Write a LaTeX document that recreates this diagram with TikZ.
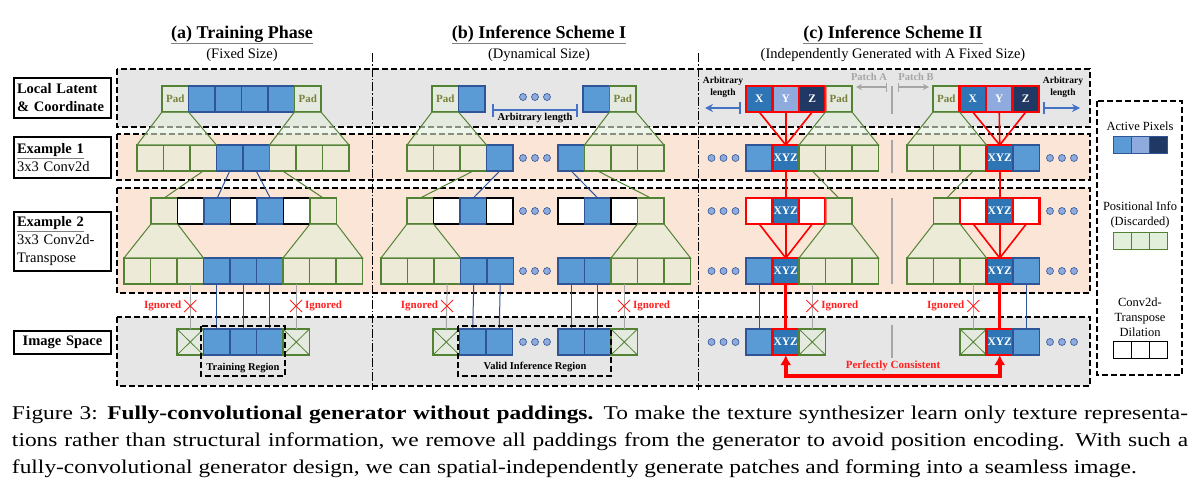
\documentclass[tikz,border=0pt]{standalone}
\usepackage{fontspec}
\setmainfont{Liberation Serif}
\newfontfamily\capfont[FakeStretch=1.2]{Liberation Serif}
\usepackage{tikz}
\usetikzlibrary{arrows.meta}
\usetikzlibrary{positioning}
\usetikzlibrary{shapes.misc}

\definecolor{bandgray}{HTML}{E7E6E6}
\definecolor{bandpeach}{HTML}{FBE5D6}
\definecolor{cellblue}{HTML}{5B9BD5}
\definecolor{cellborder}{HTML}{2F5597}
\definecolor{xyzblue}{HTML}{2E75B6}
\definecolor{ylight}{HTML}{8FAADC}
\definecolor{zdark}{HTML}{203864}
\definecolor{lgreen}{HTML}{E2EFDA}
\definecolor{greenline}{HTML}{548235}
\definecolor{padtext}{RGB}{122,128,60}
\definecolor{dotblue}{HTML}{8FAADC}
\definecolor{arbblue}{HTML}{4472C4}
\definecolor{ignred}{HTML}{FF2020}

\newcommand{\gul}[1]{\textcolor{gray}{\underline{\textcolor{black}{#1}}}}
\newcommand{\rowfont}{\fontsize{14.5}{18}\selectfont}

\tikzset{
% Define standard arrow tip
>={Latex[scale=1.25]},
cell/.style={draw, line width=1.2pt, minimum width=26.5pt, minimum height=26pt},
bcell/.style={cell, draw=cellborder, fill=cellblue},
gcell/.style={cell, draw=greenline, fill=lgreen, fill opacity=0.55, text opacity=1},
padcell/.style={gcell, text=padtext, font=\bfseries\fontsize{11}{12}\selectfont},
wcell/.style={cell, draw=black, fill=white},
rwcell/.style={cell, draw=red, line width=2.5pt, fill=white},
kcell/.style={cell, draw=red, line width=2.5pt, fill=xyzblue, text=white, font=\bfseries\fontsize{11.5}{12}\selectfont},
xcell/.style={gcell, path picture={
  \draw[greenline, line width=0.8pt] (path picture bounding box.north west) -- (path picture bounding box.south east)
    (path picture bounding box.north east) -- (path picture bounding box.south west);}},
dotrow/.style={minimum width=36pt, minimum height=10pt, path picture={
  \filldraw[draw=cellborder, fill=dotblue, line width=0.6pt] ([xshift=-12pt]path picture bounding box.center) circle (3.5pt);
  \filldraw[draw=cellborder, fill=dotblue, line width=0.6pt] (path picture bounding box.center) circle (3.5pt);
  \filldraw[draw=cellborder, fill=dotblue, line width=0.6pt] ([xshift=12pt]path picture bounding box.center) circle (3.5pt);}},
trap/.style={draw=greenline, line width=1pt, fill=lgreen, fill opacity=0.6},
gline/.style={greenline, line width=1pt},
bline/.style={cellborder, line width=1pt},
grayline/.style={gray!70, line width=1pt},
rline/.style={red, line width=1.6pt},
rthick/.style={red, line width=3pt},
band/.style={line width=1.2pt, dash pattern=on 6pt off 3pt},
sepline/.style={line width=1pt, dash pattern=on 9pt off 2pt on 1.5pt off 2pt},
midline/.style={gray!70, line width=1.2pt},
rowlabel/.style={draw, line width=1.2pt, text width=91pt, inner sep=3pt, align=left, font=\rowfont},
coltitle/.style={font=\bfseries\fontsize{18}{20}\selectfont},
subtitle/.style={font=\fontsize{14.5}{16}\selectfont},
smalltext/.style={font=\bfseries\fontsize{10.5}{11.5}\selectfont},
ign/.style={text=ignred, font=\bfseries\fontsize{11}{12}\selectfont},
xmark/.style={cross out, draw=ignred, line width=1pt, minimum size=12pt},
arbline/.style={arbblue, line width=1.8pt},
patchline/.style={gray!70, line width=1.4pt},
patchtext/.style={text=gray!70, font=\bfseries\fontsize{10.5}{12}\selectfont},
legtext/.style={align=center, font=\fontsize{12.5}{15}\selectfont},
lcell/.style={draw, line width=1pt, minimum width=18pt, minimum height=17pt},
consist/.style={red, line width=3.5pt},
}

\begin{document}
\begin{tikzpicture}[x=1pt, y=-1pt, inner sep=0, outer sep=0]
  \useasboundingbox (0,0) rectangle (1204,490);

  % bands
  \filldraw[band, fill=bandgray] (117,69) rectangle (1090,127);
  \filldraw[band, fill=bandpeach] (117,134) rectangle (1090,180);
  \filldraw[band, fill=bandpeach] (117,188) rectangle (1090,293);
  \filldraw[band, fill=bandgray] (117,317) rectangle (1090,386);
  \draw[sepline] (372,53) -- (372,390);
  \draw[sepline] (698,53) -- (698,390);

  % row labels
  \node[rowlabel, minimum height=40pt] (lab1) at (62.5,98) {\textbf{Local Latent}\\\textbf{\& Coordinate}};
  \node[rowlabel, minimum height=41pt] (lab2) at (62.5,157.5) {\textbf{\gul{Example 1}}\\3x3 Conv2d};
  \node[rowlabel, minimum height=59pt] (lab3) at (62.5,241.5) {\textbf{\gul{Example 2}}\\3x3 Conv2d-\\Transpose};
  \node[rowlabel, minimum height=23pt, align=center] (lab4) at (62.5,342.5) {\textbf{Image Space}};

  % (a) training phase
  \node[coltitle] (ta) at (242,35) {\gul{(a) Training Phase}};
  \node[subtitle] (sa) at (242,55) {(Fixed Size)};

  \node[padcell, anchor=west] (a1c1) at (162,99) {Pad};
  \node[bcell, right=0pt of a1c1] (a1c2) {};
  \node[bcell, right=0pt of a1c2] (a1c3) {};
  \node[bcell, right=0pt of a1c3] (a1c4) {};
  \node[bcell, right=0pt of a1c4] (a1c5) {};
  \node[padcell, right=0pt of a1c5] (a1c6) {Pad};

  \node[gcell, anchor=west] (a2c1) at (137,158) {};
  \node[gcell, right=0pt of a2c1] (a2c2) {};
  \node[gcell, right=0pt of a2c2] (a2c3) {};
  \node[bcell, right=0pt of a2c3] (a2c4) {};
  \node[bcell, right=0pt of a2c4] (a2c5) {};
  \node[gcell, right=0pt of a2c5] (a2c6) {};
  \node[gcell, right=0pt of a2c6] (a2c7) {};
  \node[gcell, right=0pt of a2c7] (a2c8) {};

  \node[gcell, anchor=west] (a3c1) at (151,211) {};
  \node[wcell, right=0pt of a3c1] (a3c2) {};
  \node[bcell, right=0pt of a3c2] (a3c3) {};
  \node[wcell, right=0pt of a3c3] (a3c4) {};
  \node[bcell, right=0pt of a3c4] (a3c5) {};
  \node[wcell, right=0pt of a3c5] (a3c6) {};
  \node[gcell, right=0pt of a3c6] (a3c7) {};

  \node[gcell, anchor=west] (a4c1) at (124,271) {};
  \node[gcell, right=0pt of a4c1] (a4c2) {};
  \node[gcell, right=0pt of a4c2] (a4c3) {};
  \node[bcell, right=0pt of a4c3] (a4c4) {};
  \node[bcell, right=0pt of a4c4] (a4c5) {};
  \node[bcell, right=0pt of a4c5] (a4c6) {};
  \node[gcell, right=0pt of a4c6] (a4c7) {};
  \node[gcell, right=0pt of a4c7] (a4c8) {};
  \node[gcell, right=0pt of a4c8] (a4c9) {};

  \node[xcell, anchor=west] (a5c1) at (177,342) {};
  \node[bcell, right=0pt of a5c1] (a5c2) {};
  \node[bcell, right=0pt of a5c2] (a5c3) {};
  \node[bcell, right=0pt of a5c3] (a5c4) {};
  \node[xcell, right=0pt of a5c4] (a5c5) {};

  \filldraw[trap] (a1c1.south west) -- (a1c1.south east) -- (a2c3.north east) -- (a2c1.north west) -- cycle;
  \filldraw[trap] (a1c6.south west) -- (a1c6.south east) -- (a2c8.north east) -- (a2c6.north west) -- cycle;
  \filldraw[trap] (a3c1.south west) -- (a3c1.south east) -- (a4c3.north east) -- (a4c1.north west) -- cycle;
  \filldraw[trap] (a3c7.south west) -- (a3c7.south east) -- (a4c9.north east) -- (a4c7.north west) -- cycle;

  \draw[gline] (a2c3.south) -- (a3c1.north);
  \draw[bline] (a2c4.south) -- (a3c3.north);
  \draw[bline] (a2c5.south) -- (a3c5.north);
  \draw[gline] (a2c6.south) -- (a3c7.north);
  \draw[grayline] (a4c3.south) -- (a5c1.north);
  \draw[bline] (a4c4.south) -- (a5c2.north);
  \draw[bline] (a4c5.south) -- (a5c3.north);
  \draw[bline] (a4c6.south) -- (a5c4.north);
  \draw[grayline] (a4c7.south) -- (a5c5.north);

  \node[xmark] (ax1) at (190.25,306) {};
  \node[ign, left=3pt of ax1] (ai1) {Ignored};
  \node[xmark] (ax2) at (296,306) {};
  \node[ign, right=3pt of ax2] (ai2) {Ignored};

  \draw[band] (201,326) rectangle (285,376);
  \node[smalltext] (atr) at (243,368) {Training Region};

  % (b) inference scheme I
  \node[coltitle] (tb) at (539,35) {\gul{(b) Inference Scheme I}};
  \node[subtitle] (sb) at (539,55) {(Dynamical Size)};

  % left
  \node[padcell, anchor=west] (b1c1) at (432,99) {Pad};
  \node[bcell, right=0pt of b1c1] (b1c2) {};
  \node[dotrow] (b1d) at (535,97) {};
  % right
  \node[bcell, anchor=west] (b1c3) at (583,99) {};
  \node[padcell, right=0pt of b1c3] (b1c4) {Pad};

  \coordinate (b1al) at (492,110);
  \coordinate (b1ar) at (578,110);
  \draw[arbline, {Bar[width=13pt]}-{Bar[width=13pt]}] (b1al) -- (b1ar);
  \node[smalltext] (b1at) at (535,118) {Arbitrary length};

  \node[gcell, anchor=west] (b2c1) at (407,158) {};
  \node[gcell, right=0pt of b2c1] (b2c2) {};
  \node[gcell, right=0pt of b2c2] (b2c3) {};
  \node[bcell, right=0pt of b2c3] (b2c4) {};
  \node[dotrow] (b2d) at (535,158) {};
  \node[bcell, anchor=west] (b2c5) at (558,158) {};
  \node[gcell, right=0pt of b2c5] (b2c6) {};
  \node[gcell, right=0pt of b2c6] (b2c7) {};
  \node[gcell, right=0pt of b2c7] (b2c8) {};

  \node[gcell, anchor=west] (b3c1) at (407,211) {};
  \node[wcell, right=0pt of b3c1] (b3c2) {};
  \node[bcell, right=0pt of b3c2] (b3c3) {};
  \node[wcell, right=0pt of b3c3] (b3c4) {};
  \node[dotrow] (b3d) at (535,211) {};
  \node[wcell, anchor=west] (b3c5) at (558,211) {};
  \node[bcell, right=0pt of b3c5] (b3c6) {};
  \node[wcell, right=0pt of b3c6] (b3c7) {};
  \node[gcell, right=0pt of b3c7] (b3c8) {};

  \node[gcell, anchor=west] (b4c1) at (381,271) {};
  \node[gcell, right=0pt of b4c1] (b4c2) {};
  \node[gcell, right=0pt of b4c2] (b4c3) {};
  \node[bcell, right=0pt of b4c3] (b4c4) {};
  \node[bcell, right=0pt of b4c4] (b4c5) {};
  \node[dotrow] (b4d) at (535,271) {};
  \node[bcell, anchor=west] (b4c6) at (558,271) {};
  \node[bcell, right=0pt of b4c6] (b4c7) {};
  \node[gcell, right=0pt of b4c7] (b4c8) {};
  \node[gcell, right=0pt of b4c8] (b4c9) {};
  \node[gcell, right=0pt of b4c9] (b4c10) {};

  \node[xcell, anchor=west] (b5c1) at (433,342) {};
  \node[bcell, right=0pt of b5c1] (b5c2) {};
  \node[bcell, right=0pt of b5c2] (b5c3) {};
  \node[dotrow] (b5d) at (535,342) {};
  \node[bcell, anchor=west] (b5c4) at (558,342) {};
  \node[bcell, right=0pt of b5c4] (b5c5) {};
  \node[xcell, right=0pt of b5c5] (b5c6) {};

  \filldraw[trap] (b1c1.south west) -- (b1c1.south east) -- (b2c3.north east) -- (b2c1.north west) -- cycle;
  \filldraw[trap] (b1c4.south west) -- (b1c4.south east) -- (b2c8.north east) -- (b2c6.north west) -- cycle;
  \filldraw[trap] (b3c1.south west) -- (b3c1.south east) -- (b4c3.north east) -- (b4c1.north west) -- cycle;
  \filldraw[trap] (b3c8.south west) -- (b3c8.south east) -- (b4c10.north east) -- (b4c8.north west) -- cycle;

  \draw[gline] (b2c3.south) -- (b3c1.north);
  \draw[bline] (b2c4.south) -- (b3c3.north);
  \draw[bline] (b2c5.south) -- (b3c6.north);
  \draw[gline] (b2c6.south) -- (b3c8.north);
  \draw[grayline] (b4c3.south) -- (b5c1.north);
  \draw[bline] (b4c4.south) -- (b5c2.north);
  \draw[bline] (b4c5.south) -- (b5c3.north);
  \draw[bline] (b4c6.south) -- (b5c4.north);
  \draw[bline] (b4c7.south) -- (b5c5.north);
  \draw[grayline] (b4c8.south) -- (b5c6.north);

  \node[xmark] (bx1) at (447,306) {};
  \node[ign, left=3pt of bx1] (bi1) {Ignored};
  \node[xmark] (bx2) at (624,306) {};
  \node[ign, right=3pt of bx2] (bi2) {Ignored};

  \draw[band] (458,326) rectangle (611,376);
  \node[smalltext] (bvr) at (535,367) {Valid Inference Region};

  % (c) inference scheme II
  \node[coltitle] (tc) at (893,35) {\gul{(c) Inference Scheme II}};
  \node[subtitle] (sc) at (893,55) {(Independently Generated with A Fixed Size)};

  % patch A
  \node[kcell, anchor=west] (c1c1) at (746,99) {X};
  \node[kcell, fill=ylight, right=0pt of c1c1] (c1c2) {Y};
  \node[kcell, fill=zdark, right=0pt of c1c2] (c1c3) {Z};
  \node[padcell, right=0pt of c1c3] (c1c4) {Pad};
  % patch B
  \node[padcell, anchor=west] (c1c5) at (933,99) {Pad};
  \node[kcell, right=0pt of c1c5] (c1c6) {X};
  \node[kcell, fill=ylight, right=0pt of c1c6] (c1c7) {Y};
  \node[kcell, fill=zdark, right=0pt of c1c7] (c1c8) {Z};

  \node[smalltext, align=center, font=\bfseries\fontsize{9.5}{11.5}\selectfont] (c1lt) at (723,87) {Arbitrary\\length};
  \coordinate (c1l1) at (741,108);
  \coordinate (c1l2) at (705,108);
  \draw[arbline, {Bar[width=12pt]}-{Stealth[length=8pt,width=8pt]}] (c1l1) -- (c1l2);
  \node[smalltext, align=center, font=\bfseries\fontsize{9.5}{11.5}\selectfont] (c1rt) at (1063,87) {Arbitrary\\length};
  \coordinate (c1r1) at (1043,108);
  \coordinate (c1r2) at (1080,108);
  \draw[arbline, {Bar[width=12pt]}-{Stealth[length=8pt,width=8pt]}] (c1r1) -- (c1r2);

  \node[patchtext] (cpa) at (869,77) {Patch A};
  \coordinate (cpa1) at (887,87);
  \coordinate (cpa2) at (856,87);
  \draw[patchline, {Bar[width=9pt]}-{Stealth[length=6pt,width=6pt]}] (cpa1) -- (cpa2);
  \node[patchtext] (cpb) at (916,77) {Patch B};
  \coordinate (cpb1) at (898,87);
  \coordinate (cpb2) at (929,87);
  \draw[patchline, {Bar[width=9pt]}-{Stealth[length=6pt,width=6pt]}] (cpb1) -- (cpb2);

  \draw[midline] (892,86) -- (892,114);
  \draw[midline] (892,140) -- (892,173);
  \draw[midline] (892,198) -- (892,284);
  \draw[midline] (892,325) -- (892,358);

  \node[dotrow] (c2dl) at (723.5,158) {};
  \node[bcell, anchor=west] (c2c1) at (746,158) {};
  \node[kcell, right=0pt of c2c1] (c2c2) {XYZ};
  \node[gcell, right=0pt of c2c2] (c2c3) {};
  \node[gcell, right=0pt of c2c3] (c2c4) {};
  \node[gcell, right=0pt of c2c4] (c2c5) {};
  \node[gcell, anchor=west] (c2c6) at (907,158) {};
  \node[gcell, right=0pt of c2c6] (c2c7) {};
  \node[gcell, right=0pt of c2c7] (c2c8) {};
  \node[kcell, right=0pt of c2c8] (c2c9) {XYZ};
  \node[bcell, right=0pt of c2c9] (c2c10) {};
  \node[dotrow] (c2dr) at (1062,158) {};

  \node[dotrow] (c3dl) at (723.5,211) {};
  \node[rwcell, anchor=west] (c3c1) at (746,211) {};
  \node[kcell, right=0pt of c3c1] (c3c2) {XYZ};
  \node[rwcell, right=0pt of c3c2] (c3c3) {};
  \node[gcell, right=0pt of c3c3] (c3c4) {};
  \node[gcell, anchor=west] (c3c5) at (933.5,211) {};
  \node[rwcell, right=0pt of c3c5] (c3c6) {};
  \node[kcell, right=0pt of c3c6] (c3c7) {XYZ};
  \node[rwcell, right=0pt of c3c7] (c3c8) {};
  \node[dotrow] (c3dr) at (1062,211) {};

  \node[dotrow] (c4dl) at (723.5,271) {};
  \node[bcell, anchor=west] (c4c1) at (746,271) {};
  \node[kcell, right=0pt of c4c1] (c4c2) {XYZ};
  \node[gcell, right=0pt of c4c2] (c4c3) {};
  \node[gcell, right=0pt of c4c3] (c4c4) {};
  \node[gcell, right=0pt of c4c4] (c4c5) {};
  \node[gcell, anchor=west] (c4c6) at (907,271) {};
  \node[gcell, right=0pt of c4c6] (c4c7) {};
  \node[gcell, right=0pt of c4c7] (c4c8) {};
  \node[kcell, right=0pt of c4c8] (c4c9) {XYZ};
  \node[bcell, right=0pt of c4c9] (c4c10) {};
  \node[dotrow] (c4dr) at (1062,271) {};

  \node[dotrow] (c5dl) at (723.5,342) {};
  \node[bcell, anchor=west] (c5c1) at (746,342) {};
  \node[kcell, right=0pt of c5c1] (c5c2) {XYZ};
  \node[xcell, right=0pt of c5c2] (c5c3) {};
  \node[xcell, anchor=west] (c5c4) at (960,342) {};
  \node[kcell, right=0pt of c5c4] (c5c5) {XYZ};
  \node[bcell, right=0pt of c5c5] (c5c6) {};
  \node[dotrow] (c5dr) at (1062,342) {};

  \filldraw[trap] (c1c4.south west) -- (c1c4.south east) -- (c2c5.north east) -- (c2c3.north west) -- cycle;
  \filldraw[trap] (c1c5.south west) -- (c1c5.south east) -- (c2c8.north east) -- (c2c6.north west) -- cycle;
  \filldraw[trap] (c3c4.south west) -- (c3c4.south east) -- (c4c5.north east) -- (c4c3.north west) -- cycle;
  \filldraw[trap] (c3c5.south west) -- (c3c5.south east) -- (c4c8.north east) -- (c4c6.north west) -- cycle;

  \draw[rline] (c1c1.south) -- (c2c2.north);
  \draw[rline] (c1c2.south) -- (c2c2.north);
  \draw[rline] (c1c3.south) -- (c2c2.north);
  \draw[rline] (c1c6.south) -- (c2c9.north);
  \draw[rline] (c1c7.south) -- (c2c9.north);
  \draw[rline] (c1c8.south) -- (c2c9.north);
  \draw[rline] (c2c2.south) -- (c3c2.north);
  \draw[rline] (c2c9.south) -- (c3c7.north);
  \draw[gline] (c2c3.south) -- (c3c4.north);
  \draw[gline] (c2c8.south) -- (c3c5.north);
  \draw[rline] (c3c1.south) -- (c4c2.north);
  \draw[rline] (c3c2.south) -- (c4c2.north);
  \draw[rline] (c3c3.south) -- (c4c2.north);
  \draw[rline] (c3c6.south) -- (c4c9.north);
  \draw[rline] (c3c7.south) -- (c4c9.north);
  \draw[rline] (c3c8.south) -- (c4c9.north);
  \draw[bline] (c4c1.south) -- (c5c1.north);
  \draw[rthick] (c4c2.south) -- (c5c2.north);
  \draw[grayline] (c4c3.south) -- (c5c3.north);
  \draw[grayline] (c4c8.south) -- (c5c4.north);
  \draw[rthick] (c4c9.south) -- (c5c5.north);
  \draw[bline] (c4c10.south) -- (c5c6.north);

  \node[xmark] (cx1) at (812.25,306) {};
  \node[ign, right=3pt of cx1] (ci1) {Ignored};
  \node[xmark] (cx2) at (973.25,306) {};
  \node[ign, left=3pt of cx2] (ci2) {Ignored};

  \draw[consist, {Latex[length=10pt,width=11pt]}-{Latex[length=10pt,width=11pt]}] (c5c2.south) -- ([yshift=-21pt]c5c2.south) -- ([yshift=-21pt]c5c5.south) -- (c5c5.south);
  \node[ign] (cpc) at (893,366) {Perfectly Consistent};

  % legend
  \draw[band] (1097,101) rectangle (1182,375);
  \node[legtext] (l1) at (1140,126) {Active Pixels};
  \node[lcell, draw=cellborder, fill=cellblue, anchor=west] (l1c1) at (1113,144.5) {};
  \node[lcell, draw=cellborder, fill=ylight, right=0pt of l1c1] (l1c2) {};
  \node[lcell, draw=cellborder, fill=zdark, right=0pt of l1c2] (l1c3) {};
  \node[legtext] (l2) at (1140,214.5) {Positional Info\\(Discarded)};
  \node[lcell, draw=greenline, fill=lgreen, anchor=west] (l2c1) at (1113,240.5) {};
  \node[lcell, draw=greenline, fill=lgreen, right=0pt of l2c1] (l2c2) {};
  \node[lcell, draw=greenline, fill=lgreen, right=0pt of l2c2] (l2c3) {};
  \node[legtext] (l3) at (1140,317) {Conv2d-\\Transpose\\Dilation};
  \node[lcell, fill=white, anchor=west] (l3c1) at (1113,350) {};
  \node[lcell, fill=white, right=0pt of l3c1] (l3c2) {};
  \node[lcell, fill=white, right=0pt of l3c2] (l3c3) {};

  % caption
  \node[anchor=north west, text width=1176pt, align=justify, font=\capfont\fontsize{19.5}{27.3}\selectfont] (cap) at (12,405.5)
    {Figure 3: \textbf{Fully-convolutional generator without paddings.} To make the texture synthesizer learn only texture representa-\linebreak tions rather than structural information, we remove all paddings from the generator to avoid position encoding. With such a\linebreak fully-convolutional generator design, we can spatial-independently generate patches and forming into a seamless image.};
\end{tikzpicture}
\end{document}
